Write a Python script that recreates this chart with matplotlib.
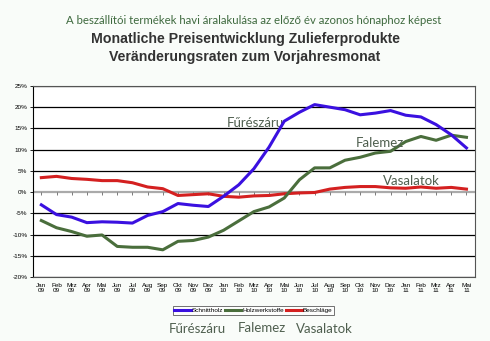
import matplotlib
matplotlib.use("Agg")
import matplotlib.pyplot as plt
import numpy as np

months = ["Jan", "Feb", "Mrz", "Apr", "Mai", "Jun", "Jul", "Aug", "Sep", "Okt", "Nov", "Dez"]
years = ["09", "10", "11"]
labels = [f"{m}\n{y}" for y in years for m in months][:29]

schnittholz = [-3.0, -5.3, -5.9, -7.2, -7.0, -7.1, -7.3, -5.5, -4.6, -2.7, -3.1, -3.4,
               -1.0, 1.7, 5.5, 10.6, 16.7, 18.8, 20.6, 20.0, 19.4, 18.2, 18.6, 19.2,
               18.1, 17.7, 15.9, 13.5, 10.4]
holzwerkstoffe = [-6.7, -8.4, -9.3, -10.4, -10.1, -12.8, -13.0, -13.0, -13.6, -11.6, -11.4, -10.6,
                  -9.0, -6.8, -4.6, -3.5, -1.4, 2.9, 5.7, 5.7, 7.5, 8.2, 9.2, 9.6,
                  11.9, 13.1, 12.2, 13.4, 12.9]
beschlaege = [3.4, 3.7, 3.2, 3.0, 2.7, 2.7, 2.2, 1.2, 0.8, -0.8, -0.6, -0.4,
              -1.0, -1.2, -0.9, -0.8, -0.4, -0.2, -0.1, 0.7, 1.1, 1.3, 1.3, 1.0,
              0.9, 1.2, 0.9, 1.1, 0.7]

yticks = list(range(-20, 30, 5))
txt_col = "#4f5f4f"
hu_font = "Lato"

fig = plt.figure(figsize=(4.9, 3.41), dpi=100, facecolor="#f9fcf9")
ax = fig.add_axes([0.0673, 0.1877, 0.9017, 0.5603])
ax.set_facecolor("white")

x = np.arange(len(labels))
for v in yticks:
    if v != 0:
        ax.axhline(v, color="black", lw=0.9, zorder=1)
ax.axhline(0, color="#aaaaaa", lw=1.6, zorder=1)
ax.vlines(x, -0.6, 0, color="#666666", lw=0.6, zorder=1)

ax.plot(x, beschlaege, color="#d42020", lw=2.2, label="Beschläge", zorder=3)
ax.plot(x, holzwerkstoffe, color="#4a6e3c", lw=2.2, label="Holzwerkstoffe", zorder=3)
ax.plot(x, schnittholz, color="#3a10e0", lw=2.2, label="Schnittholz", zorder=4)

ax.set_xlim(-0.55, 28.55)
ax.set_ylim(-20, 25)
ax.set_yticks(yticks)
ax.set_yticklabels([f"{v}%" for v in yticks], fontsize=4.6, family="Liberation Sans")
ax.set_xticks(x)
ax.set_xticklabels(labels, fontsize=4.6, family="Liberation Sans", linespacing=1.1)
ax.tick_params(axis="x", length=0, pad=4)
ax.tick_params(axis="y", length=2, width=0.6, pad=2)
for s in ax.spines.values():
    s.set_color("#555555")
    s.set_linewidth(0.8)
ax.spines["left"].set_color("black")

ax.text(12.2, 15.4, "Fűrészáru", fontsize=9.5, color=txt_col, family=hu_font)
ax.text(20.7, 10.6, "Falemez", fontsize=9.5, color=txt_col, family=hu_font)
ax.text(22.5, 1.6, "Vasalatok", fontsize=9.5, color=txt_col, family=hu_font)

handles, names = ax.get_legend_handles_labels()
order = [2, 1, 0]
leg = fig.legend([handles[i] for i in order], [names[i] for i in order],
                 loc="center", bbox_to_anchor=(0.517, 0.09), ncol=3,
                 frameon=True, fancybox=False, edgecolor="#333333", handlelength=2.6,
                 handletextpad=0.1, columnspacing=0.3, borderpad=0.25,
                 prop={"family": "Liberation Sans", "size": 4.6})
leg.get_frame().set_linewidth(0.6)

fig.text(0.402, 0.022, "Fűrészáru", fontsize=9.5, color=txt_col, ha="center", family=hu_font)
fig.text(0.535, 0.025, "Falemez", fontsize=9.5, color=txt_col, ha="center", family=hu_font)
fig.text(0.663, 0.022, "Vasalatok", fontsize=9.5, color=txt_col, ha="center", family=hu_font)

fig.text(0.518, 0.93, "A beszállítói termékek havi áralakulása az előző év azonos hónaphoz képest",
         fontsize=8.2, color="#3f6a3f", ha="center", family=hu_font)
fig.text(0.5, 0.875, "Monatliche Preisentwicklung Zulieferprodukte", fontsize=10.2,
         weight="bold", color="#333333", ha="center", family="Liberation Sans")
fig.text(0.5, 0.82, "Veränderungsraten zum Vorjahresmonat", fontsize=10.2,
         weight="bold", color="#333333", ha="center", family="Liberation Sans")

fig.savefig("out.png", dpi=100, facecolor=fig.get_facecolor())
